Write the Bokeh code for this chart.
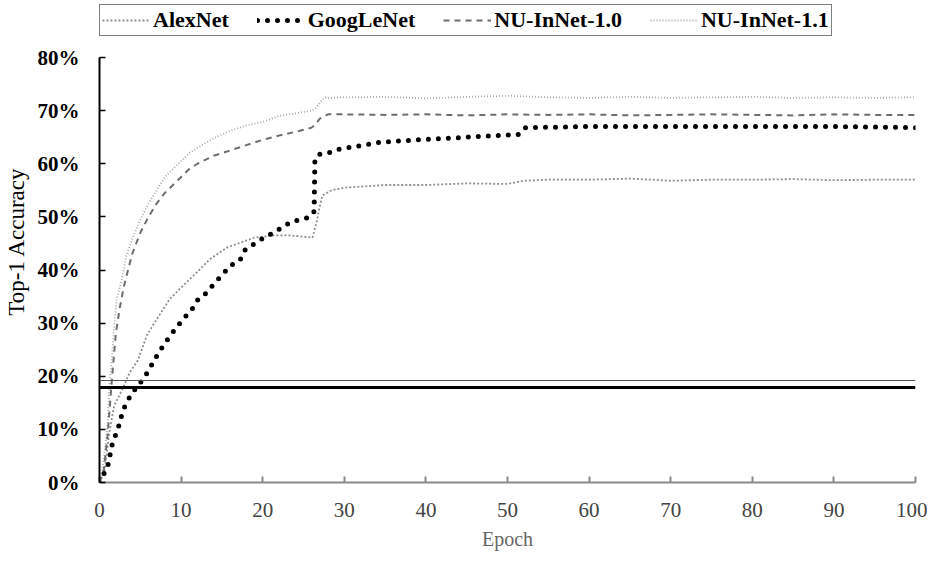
from bokeh.plotting import figure
from bokeh.models import (Legend, LegendItem, Span, Range1d, FixedTicker,
                          PrintfTickFormatter)
from bokeh.embed import file_html
from bokeh.resources import INLINE

# ---------------- data ----------------
x_ticks = [0, 10, 20, 30, 40, 50, 60, 70, 80, 90, 100]
y_ticks = [0, 10, 20, 30, 40, 50, 60, 70, 80]

alex_epoch = [0, 0.6, 1.2, 1.8, 2.8, 3.7, 4.7, 5.8, 7, 8.6, 10.2, 11.9, 13.5,
              15.7, 17, 19, 21.4, 23.5, 26.1, 26.6, 27, 27.3, 28.4, 30, 35,
              40, 45, 50, 52, 55, 60, 65, 70, 75, 80, 85, 90, 95, 100]
alex_acc = [0, 2, 9.4, 14.5, 17.5, 20.7, 23, 27.7, 30.7, 34.5, 37, 39.5, 42,
            44.3, 45, 46.1, 46.5, 46.5, 46.1, 49, 52, 54, 55, 55.5, 56,
            56, 56.3, 56.2, 56.8, 57, 57, 57.2, 56.8, 57, 57, 57.1, 56.9, 57, 57]

goog_epoch = [0, 1, 1.6, 2.1, 2.5, 2.8, 3.3, 3.9, 4.7, 5.5, 6.1, 6.7, 7.4,
              8.1, 8.8, 9.6, 10.4, 11.3, 12, 12.9, 14.5, 16.1, 17.2, 17.8,
              19.4, 21.4, 23.5, 24.7, 25.7, 26.3, 26.4, 27, 28, 29.2, 30.4,
              32.8, 34, 40, 45, 51.3, 52.2, 60, 70, 80, 90, 100]
goog_acc = [0, 3, 7.5, 9.4, 11.3, 13.2, 15, 16.6, 18.2, 19.8, 21.3, 23, 24.8,
            26.4, 27.9, 29.5, 31, 32.5, 34.3, 35.4, 38.2, 40.9, 41.8, 43.7,
            45.4, 47.1, 49.1, 49.5, 49.9, 51, 61, 61.8, 62, 62.7, 63,
            63.6, 64, 64.6, 65, 65.5, 66.8, 67, 67, 67, 67, 66.8]

nu10_epoch = [0, 0.5, 1, 1.5, 2, 2.5, 3, 4, 5, 6, 7, 8, 9, 10, 11, 12, 14,
              16, 18, 20, 22, 24, 26, 26.5, 27, 28, 30, 35, 40, 45, 50, 55,
              60, 65, 70, 75, 80, 85, 90, 95, 100]
nu10_acc = [0, 2, 9, 19, 28, 33, 37, 43, 47, 50, 52.5, 54.5, 56, 57.5, 59,
            60, 61.5, 62.5, 63.5, 64.5, 65.3, 66, 66.8, 67.5, 68.5, 69.3,
            69.3, 69.2, 69.3, 69.1, 69.3, 69.2, 69.3, 69.1, 69.2, 69.3, 69.2,
            69.1, 69.3, 69.2, 69.2]

nu11_epoch = [0, 0.5, 1, 1.2, 1.5, 1.8, 2.1, 2.7, 3.3, 4, 5, 6, 7, 8, 9, 10,
              11, 12, 14, 16, 18, 20, 22, 24, 26, 26.5, 27, 27.6, 28, 30, 35,
              40, 45, 50, 55, 60, 65, 70, 75, 80, 85, 90, 95, 100]
nu11_acc = [0, 4, 11, 18, 23, 29.5, 34.5, 38, 42.7, 45.8, 49.5, 52.5, 55,
            57.5, 59, 60.5, 62, 63, 64.8, 66.2, 67.2, 67.9, 69, 69.5, 70,
            70.5, 71.5, 72.5, 72.4, 72.5, 72.6, 72.3, 72.6, 72.8, 72.5, 72.4,
            72.6, 72.4, 72.5, 72.6, 72.4, 72.5, 72.4, 72.5]

labels = ["AlexNet", "GoogLeNet", "NU-InNet-1.0", "NU-InNet-1.1"]

FONT = "Liberation Serif"

# frame extends above 80% so the legend can sit inside it; axis bounds stop at 80%
p = figure(frame_width=816, frame_height=482,
           x_range=Range1d(0, 100), y_range=Range1d(0, 90.73),
           output_backend="svg", toolbar_location=None,
           min_border_left=97, min_border_top=0, min_border_right=12,
           min_border_bottom=65, background_fill_color="white",
           border_fill_color="white", outline_line_color=None)

p.grid.visible = False

# scan lines across the chart
p.add_layout(Span(location=19.2, dimension="width", line_color="#555555",
                  line_width=1))
p.add_layout(Span(location=17.9, dimension="width", line_color="black",
                  line_width=3))

r_alex = p.line(alex_epoch, alex_acc, line_color="#8f8f8f", line_width=1.8,
                line_dash="2 2")
r_nu11 = p.line(nu11_epoch, nu11_acc, line_color="#a8a8a8", line_width=1.8,
                line_dash="1 2")
r_nu10 = p.line(nu10_epoch, nu10_acc, line_color="#6e6e6e", line_width=2,
                line_dash="6 5")
r_goog = p.line(goog_epoch, goog_acc, line_color="black", line_width=5,
                line_dash="0 10", line_cap="round")

# axes
p.xaxis.ticker = FixedTicker(ticks=x_ticks)
p.yaxis.ticker = FixedTicker(ticks=y_ticks)
p.yaxis.formatter = PrintfTickFormatter(format="%d%%")
p.xaxis.bounds = (0, 100)
p.yaxis.bounds = (0, 80)
for ax in (p.xaxis[0], p.yaxis[0]):
    ax.major_tick_in = 6
    ax.major_tick_out = 0
    ax.minor_tick_in = 0
    ax.minor_tick_out = 0
    ax.major_label_text_font = FONT
    ax.major_label_text_font_size = "21px"
    ax.axis_label_text_font = FONT
    ax.axis_label_text_font_style = "normal"

p.yaxis.axis_line_color = "black"
p.yaxis.axis_line_width = 2
p.yaxis.major_tick_line_color = "black"
p.yaxis.major_tick_line_width = 1.5
p.yaxis.major_label_text_font_style = "bold"
p.yaxis.major_label_text_color = "black"
p.yaxis.major_label_standoff = 20
p.yaxis.axis_label = "Top-1 Accuracy"
p.yaxis.axis_label_text_font_size = "23px"
p.yaxis.axis_label_text_color = "black"
p.yaxis.axis_label_standoff = 6

p.xaxis.axis_line_color = "#8a8a8a"
p.xaxis.axis_line_width = 2
p.xaxis.major_tick_line_color = "#8a8a8a"
p.xaxis.major_tick_line_width = 2
p.xaxis.major_label_text_color = "#444444"
p.xaxis.major_label_standoff = 20
p.xaxis.axis_label = "Epoch"
p.xaxis.axis_label_text_font_size = "20px"
p.xaxis.axis_label_text_color = "#666666"
p.xaxis.axis_label_standoff = 8

legend = Legend(items=[
    LegendItem(label=labels[0], renderers=[r_alex]),
    LegendItem(label=labels[1], renderers=[r_goog]),
    LegendItem(label=labels[2], renderers=[r_nu10]),
    LegendItem(label=labels[3], renderers=[r_nu11]),
], orientation="horizontal", location=(0, 446))
legend.label_text_font = FONT
legend.label_text_font_size = "22px"
legend.label_text_font_style = "bold"
legend.label_text_color = "black"
legend.glyph_width = 48
legend.glyph_height = 18
legend.label_standoff = 3
legend.spacing = 28
legend.padding = 2
legend.margin = 0
legend.border_line_color = "black"
legend.border_line_width = 1.5
legend.background_fill_alpha = 1
p.add_layout(legend)

open("out.html", "w").write(file_html(p, INLINE))
